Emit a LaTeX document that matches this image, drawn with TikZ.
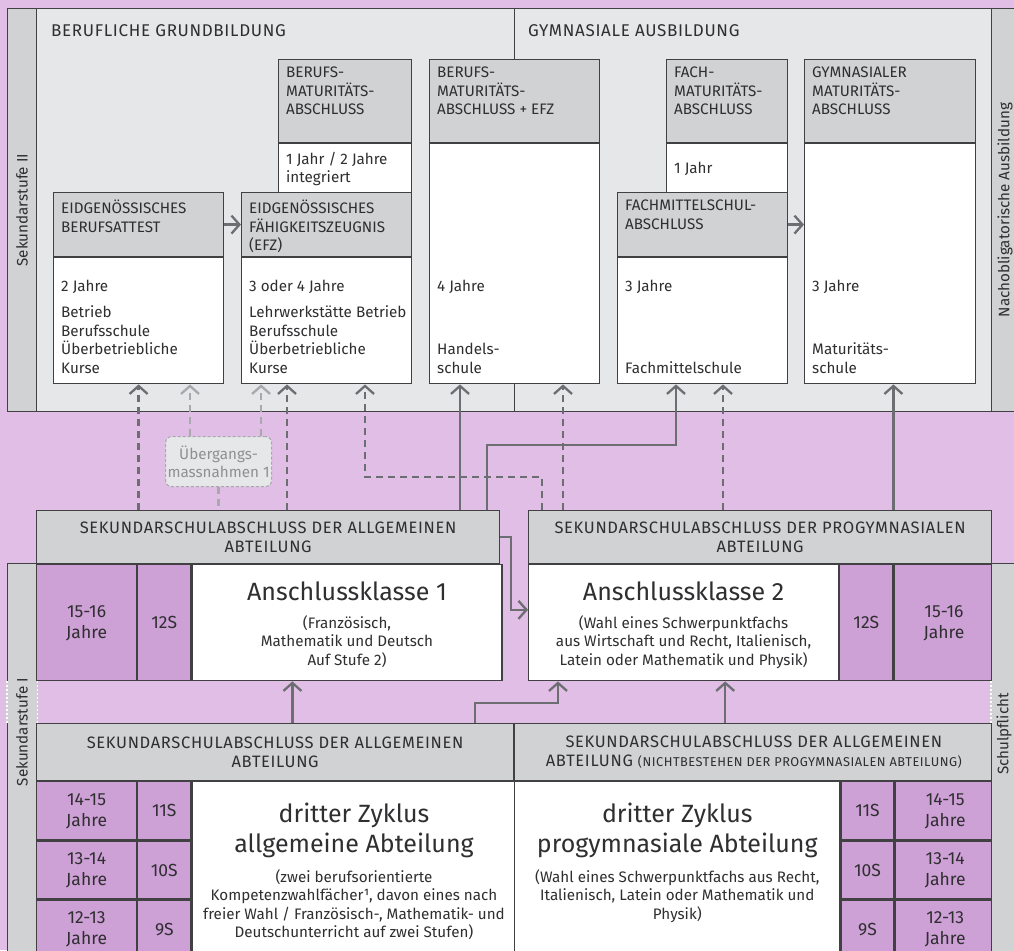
\documentclass[tikz,border=0pt]{standalone}
\usepackage{fontspec}
\setmainfont{Fira Sans}
\newfontfamily\versal{Fira Sans}[LetterSpace=4]
\usepackage{tikz}
\usetikzlibrary{arrows.meta,calc,positioning,backgrounds}

\definecolor{lila}{HTML}{E0BEE5}
\definecolor{lilaDunkel}{HTML}{CDA0D6}
\definecolor{kopfGrau}{HTML}{D1D2D4}
\definecolor{feldGrau}{HTML}{E6E7E8}
\definecolor{linie}{HTML}{414042}
\definecolor{pfeil}{HTML}{6D6E71}
\definecolor{pfeilHell}{HTML}{A7A9AC}
\definecolor{schrift}{HTML}{2F2E30}

\tikzset{
  rahmen/.style={draw=linie, line width=1.2pt},
  kopf/.style={rahmen, fill=kopfGrau, anchor=north west, inner sep=0pt},
  kopftxt/.style={kopf, align=center, text=schrift, font=\versal\fontsize{16.5}{19}\selectfont},
  feld/.style={rahmen, fill=white, anchor=north west, inner sep=0pt},
  alter/.style={rahmen, fill=lilaDunkel, anchor=north west, inner sep=0pt, align=center, text=schrift, font=\fontsize{17.5}{21}\selectfont},
  txt/.style={inner sep=0pt, align=left, text=schrift, font=\fontsize{15.2}{18.5}\selectfont},
  titel/.style={inner sep=0pt, anchor=west, text=schrift, font=\versal\fontsize{17}{20}\selectfont},
  gross/.style={inner sep=0pt, align=center, text=schrift, font=\fontsize{25}{30}\selectfont},
  pf/.style={draw=pfeil, line width=2.3pt, -{Straight Barb[length=8pt,width=18pt]}},
  pfh/.style={pf, draw=pfeilHell},
  gestr/.style={dash pattern=on 7pt off 5pt},
  naht/.style={white, line width=1.3pt, dash pattern=on 2pt off 2pt},
}

\begin{document}
\begin{tikzpicture}[x=1pt,y=-1pt]
  \useasboundingbox (0,0) rectangle (1014,950);
  \clip (0,0) rectangle (1014,950);
  \fill[lila] (0,0) rectangle (1014,950);

  % Sekundarstufe II
  \node[rahmen, fill=feldGrau, anchor=north west, inner sep=0pt, minimum width=1013pt, minimum height=403pt] (sek2feld) at (7,8) {};
  \node[kopf, minimum width=29pt, minimum height=403pt] (sek2) at (7,8) {};
  \node[kopf, minimum width=29pt, minimum height=403pt] (nachob) at (991,8) {};
  \node[txt, rotate=90] (sek2L) at (sek2.center) {Sekundarstufe II};
  \node[txt, rotate=90] (nachobL) at ([xshift=-1pt]nachob.center) {Nachobligatorische Ausbildung};
  \node[titel] (bgb) at (51,30.5) {BERUFLICHE GRUNDBILDUNG};
  \node[titel] (gab) at (528,30.5) {GYMNASIALE AUSBILDUNG};

  % Abschluesse oben
  \node[kopf, minimum width=133pt, minimum height=83pt] (bmaK) at (278,59) {};
  \node[feld, minimum width=133pt, minimum height=50pt] (bmaF) at (bmaK.south west) {};
  \node[kopf, minimum width=170pt, minimum height=64pt] (ebaK) at (53,192) {};
  \node[feld, minimum width=170pt, minimum height=126pt] (ebaF) at (ebaK.south west) {};
  \node[kopf, minimum width=170pt, minimum height=64pt] (efzK) at (241,192) {};
  \node[feld, minimum width=170pt, minimum height=126pt] (efzF) at (efzK.south west) {};
  \node[kopf, minimum width=170pt, minimum height=83pt] (bmefzK) at (429,59) {};
  \node[feld, minimum width=170pt, minimum height=240pt] (bmefzF) at (bmefzK.south west) {};
  \node[kopf, minimum width=121pt, minimum height=83pt] (fmaK) at (666,59) {};
  \node[feld, minimum width=121pt, minimum height=50pt] (fmaF) at (fmaK.south west) {};
  \node[kopf, minimum width=170pt, minimum height=64pt] (fmsK) at (617,192) {};
  \node[feld, minimum width=170pt, minimum height=126pt] (fmsF) at (fmsK.south west) {};
  \node[kopf, minimum width=171pt, minimum height=83pt] (gmK) at (804,59) {};
  \node[feld, minimum width=171pt, minimum height=240pt] (gmF) at (gmK.south west) {};
  \draw[linie, line width=1.2pt] (bmefzK.north |- sek2feld.north) -- (bmefzK.north);
  \draw[linie, line width=1.2pt] (bmefzF.south) -- (bmefzF.south |- sek2feld.south);

  \node[txt, anchor=north west] (bmaT) at ([shift={(8,8)}]bmaK.north west) {BERUFS-\\MATURITÄTS-\\ABSCHLUSS};
  \node[txt, anchor=west] (bmaJ) at ([xshift=8pt]bmaF.west) {1 Jahr / 2 Jahre\\integriert};
  \node[txt, anchor=north west] (ebaT) at ([shift={(8,8)}]ebaK.north west) {EIDGENÖSSISCHES\\BERUFSATTEST};
  \node[txt, anchor=base west] (ebaJ) at ([shift={(8,-93)}]ebaF.south west) {2 Jahre};
  \node[txt, anchor=south west] (ebaO) at ([shift={(8,-11)}]ebaF.south west) {Betrieb\\Berufsschule\\Überbetriebliche\\Kurse};
  \node[txt, anchor=north west] (efzT) at ([shift={(8,8)}]efzK.north west) {EIDGENÖSSISCHES\\FÄHIGKEITSZEUGNIS\\(EFZ)};
  \node[txt, anchor=base west] (efzJ) at ([shift={(8,-93)}]efzF.south west) {3 oder 4 Jahre};
  \node[txt, anchor=south west] (efzO) at ([shift={(8,-11)}]efzF.south west) {Lehrwerkstätte Betrieb\\Berufsschule\\Überbetriebliche\\Kurse};
  \node[txt, anchor=north west] (bmefzT) at ([shift={(8,8)}]bmefzK.north west) {BERUFS-\\MATURITÄTS-\\ABSCHLUSS + EFZ};
  \node[txt, anchor=base west] (bmefzJ) at ([shift={(8,-93)}]bmefzF.south west) {4 Jahre};
  \node[txt, anchor=south west] (bmefzO) at ([shift={(8,-11)}]bmefzF.south west) {Handels-\\schule};
  \node[txt, anchor=north west] (fmaT) at ([shift={(8,8)}]fmaK.north west) {FACH-\\MATURITÄTS-\\ABSCHLUSS};
  \node[txt, anchor=west] (fmaJ) at ([xshift=8pt]fmaF.west) {1 Jahr};
  \node[txt, anchor=north west] (fmsT) at ([shift={(8,8)}]fmsK.north west) {FACHMITTELSCHUL-\\ABSCHLUSS};
  \node[txt, anchor=base west] (fmsJ) at ([shift={(8,-93)}]fmsF.south west) {3 Jahre};
  \node[txt, anchor=south west] (fmsO) at ([shift={(8,-11)}]fmsF.south west) {Fachmittelschule};
  \node[txt, anchor=north west] (gmT) at ([shift={(8,8)}]gmK.north west) {GYMNASIALER\\MATURITÄTS-\\ABSCHLUSS};
  \node[txt, anchor=base west] (gmJ) at ([shift={(8,-93)}]gmF.south west) {3 Jahre};
  \node[txt, anchor=south west] (gmO) at ([shift={(8,-11)}]gmF.south west) {Maturitäts-\\schule};

  \draw[pf] (ebaK.east) -- (efzK.west);
  \draw[pf] (fmsK.east) -- (fmsK.east -| gmF.west);

  % Sekundarstufe I, Anschlussklassen
  \node[kopftxt, minimum width=463pt, minimum height=53pt] (abschlA) at (36,510) {SEKUNDARSCHULABSCHLUSS DER ALLGEMEINEN\\ABTEILUNG};
  \node[alter, minimum width=100pt, minimum height=116pt] (ageA) at (abschlA.south west) {15-16\\Jahre};
  \node[alter, minimum width=53pt, minimum height=116pt] (klA) at (ageA.north east) {12S};
  \node[feld, minimum width=310pt, minimum height=116pt] (ak1) at (klA.north east) {};
  \node[gross, anchor=base] (ak1T) at ([yshift=-36pt]ak1.north) {Anschlussklasse 1};
  \node[txt, align=center, anchor=north] (ak1U) at ([yshift=-51pt]ak1.north) {(Französisch,\\Mathematik und Deutsch\\Auf Stufe 2)};

  \node[kopftxt, minimum width=463pt, minimum height=53pt] (abschlP) at (528,510) {SEKUNDARSCHULABSCHLUSS DER PROGYMNASIALEN\\ABTEILUNG};
  \node[feld, minimum width=310pt, minimum height=116pt] (ak2) at (abschlP.south west) {};
  \node[alter, minimum width=53pt, minimum height=116pt] (klP) at (ak2.north east) {12S};
  \node[alter, minimum width=100pt, minimum height=116pt] (ageP) at (klP.north east) {15-16\\Jahre};
  \node[gross, anchor=base] (ak2T) at ([yshift=-36pt]ak2.north) {Anschlussklasse 2};
  \node[txt, align=center, anchor=north] (ak2U) at ([yshift=-51pt]ak2.north) {(Wahl eines Schwerpunktfachs\\aus Wirtschaft und Recht, Italienisch,\\Latein oder Mathematik und Physik)};

  % dritter Zyklus
  \node[kopftxt, minimum width=477pt, minimum height=57pt] (abschlB) at (36,723) {SEKUNDARSCHULABSCHLUSS DER ALLGEMEINEN\\ABTEILUNG};
  \node[kopftxt, minimum width=478pt, minimum height=57pt] (abschlC) at (abschlB.north east) {SEKUNDARSCHULABSCHLUSS DER ALLGEMEINEN\\ABTEILUNG {\fontsize{12.8}{15}\selectfont (NICHTBESTEHEN DER PROGYMNASIALEN ABTEILUNG)}};
  \node[alter, minimum width=100pt, minimum height=58pt] (a1) at (abschlB.south west) {14-15\\Jahre};
  \node[alter, minimum width=100pt, minimum height=58pt] (a2) at (a1.south west) {13-14\\Jahre};
  \node[alter, minimum width=100pt, minimum height=58pt] (a3) at (a2.south west) {12-13\\Jahre};
  \node[alter, minimum width=53pt, minimum height=58pt] (k1) at (a1.north east) {11S};
  \node[alter, minimum width=53pt, minimum height=58pt] (k2) at (a2.north east) {10S};
  \node[alter, minimum width=53pt, minimum height=58pt] (k3) at (a3.north east) {9S};
  \node[feld, minimum width=324pt, minimum height=174pt] (zyk1) at (k1.north east) {};
  \node[gross, anchor=north] (zyk1T) at ([yshift=-22pt]zyk1.north) {dritter Zyklus\\allgemeine Abteilung};
  \node[txt, align=center, anchor=north] (zyk1U) at ([yshift=-88pt]zyk1.north) {(zwei berufsorientierte\\Kompetenzwahlfächer¹, davon eines nach\\freier Wahl / Französisch-, Mathematik- und\\Deutschunterricht auf zwei Stufen)};

  \node[feld, minimum width=325pt, minimum height=174pt] (zyk2) at (abschlC.south west) {};
  \node[alter, minimum width=53pt, minimum height=58pt] (m1) at (zyk2.north east) {11S};
  \node[alter, minimum width=53pt, minimum height=58pt] (m2) at (m1.south west) {10S};
  \node[alter, minimum width=53pt, minimum height=58pt] (m3) at (m2.south west) {9S};
  \node[alter, minimum width=100pt, minimum height=58pt] (b1) at (m1.north east) {14-15\\Jahre};
  \node[alter, minimum width=100pt, minimum height=58pt] (b2) at (m2.north east) {13-14\\Jahre};
  \node[alter, minimum width=100pt, minimum height=58pt] (b3) at (m3.north east) {12-13\\Jahre};
  \node[gross, anchor=north] (zyk2T) at ([yshift=-22pt]zyk2.north) {dritter Zyklus\\progymnasiale Abteilung};
  \node[txt, align=center, anchor=north] (zyk2U) at ([yshift=-88pt]zyk2.north) {(Wahl eines Schwerpunktfachs aus Recht,\\Italienisch, Latein oder Mathematik und\\Physik)};

  % Seitenleisten unten
  \node[kopf, minimum width=29pt, minimum height=391pt] (sek1) at (7,563) {};
  \node[kopf, minimum width=29pt, minimum height=391pt] (pflicht) at (991,563) {};
  \draw[kopfGrau, line width=1.5pt] (sek1.north west |- ageA.south) -- (sek1.north west |- abschlB.north);
  \draw[kopfGrau, line width=1.5pt] (sek1.north east |- ageA.south) -- (sek1.north east |- abschlB.north);
  \draw[kopfGrau, line width=1.5pt] (pflicht.north west |- ageP.south) -- (pflicht.north west |- abschlB.north);
  \draw[naht] (sek1.north west |- ageA.south) -- (sek1.north west |- abschlB.north);
  \draw[naht] (sek1.north east |- ageA.south) -- (sek1.north east |- abschlB.north);
  \draw[naht] (pflicht.north west |- ageP.south) -- (pflicht.north west |- abschlB.north);
  \node[txt, rotate=90] (sek1L) at ([yshift=27pt]sek1.center) {Sekundarstufe I};
  \node[txt, rotate=90] (pflichtL) at ([shift={(-2,-25)}]pflicht.center) {Schulpflicht};

  % Uebergang
  \node[rounded corners=6pt, draw=pfeilHell, line width=1.1pt, dash pattern=on 3pt off 2pt, fill=feldGrau, anchor=north west, inner sep=0pt, minimum width=106pt, minimum height=50pt, align=center, text=pfeilHell!85!black, font=\fontsize{15.2}{18.5}\selectfont] (ueb) at (165,436) {Übergangs-\\massnahmen 1};

  % Pfeile nach oben
  \draw[pf, gestr] (ebaF.south |- abschlA.north) -- (ebaF.south);
  \draw[pfh, gestr] ([xshift=25pt]ueb.north west) -- ([xshift=25pt]ueb.north west |- ebaF.south);
  \draw[pfh, gestr] ([xshift=-11pt]ueb.north east) -- ([xshift=-11pt]ueb.north east |- efzF.south);
  \draw[pfeilHell, line width=2.3pt, gestr] (ueb.south) -- (ueb.south |- abschlA.north);
  \draw[pf, gestr] ([xshift=46pt]efzF.south west |- abschlA.north) -- ([xshift=46pt]efzF.south west);
  \draw[pf, gestr] ([xshift=14pt]abschlP.north west) -- ++(0,-33) -| ([xshift=124pt]efzF.south west);
  \draw[pf] ([xshift=31pt]bmefzF.south west |- abschlA.north) -- ([xshift=31pt]bmefzF.south west);
  \draw[pf] ([xshift=-13pt]abschlA.north east) -- ++(0,-65) -| ([xshift=59pt]fmsF.south west);
  \draw[pf, gestr] ([xshift=35pt]abschlP.north west) -- ([xshift=35pt]abschlP.north west |- bmefzF.south);
  \draw[pf, gestr] ([xshift=195pt]abschlP.north west) -- ([xshift=195pt]abschlP.north west |- fmsF.south);
  \draw[pf] (ageP.north west |- abschlP.north) -- (ageP.north west |- gmF.south);

  \draw[pf] (abschlA.east) -- ++(11,0) |- ([yshift=13pt]ak2.west);
  \draw[pf] ([xshift=101pt]ak1.south west |- abschlB.north) -- ([xshift=101pt]ak1.south west);
  \draw[pf] ([xshift=-39pt]abschlB.north east) -- ++(0,-20) -| ([xshift=30pt]ak2.south west);
  \draw[pf] ([xshift=211pt]abschlC.north west) -- ([xshift=211pt]abschlC.north west |- ak2.south);
\end{tikzpicture}
\end{document}
